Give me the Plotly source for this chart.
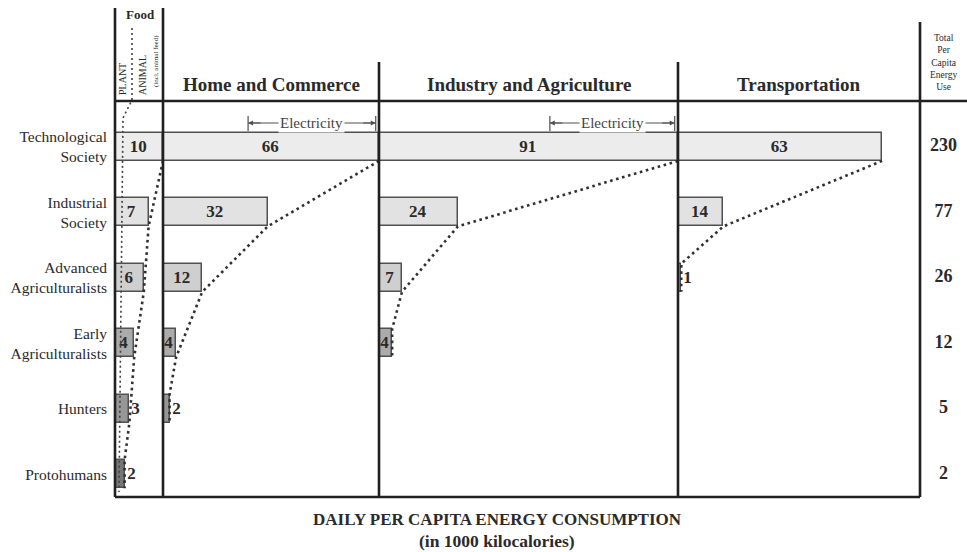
import plotly.graph_objects as go

# ---------------- data ----------------
societies = ["Technological<br>Society", "Industrial<br>Society", "Advanced<br>Agriculturalists",
             "Early<br>Agriculturalists", "Hunters", "Protohumans"]
food = [10, 7, 6, 4, 3, 2]
home_commerce = [66, 32, 12, 4, 2, 0]
industry_agri = [91, 24, 7, 4, 0, 0]
transportation = [63, 14, 1, 0, 0, 0]
total_use = [230, 77, 26, 12, 5, 2]
electricity_home = 40
electricity_industry = 39

sector_titles = ["Home and Commerce", "Industry and Agriculture", "Transportation"]

# ---------------- styling ----------------
W, H = 967, 552
FONT = "Liberation Serif"
INK = "#2a2a2a"
row_fills = ["#ececec", "#e2e2e2", "#cfcfcf", "#ababab", "#979797", "#767676"]
HALF = 0.215  # half bar thickness (row units)


def px(x):
    return x / W


def py(y):
    return 1 - y / H


# panel geometry (pixels) and axis ranges
panels = [
    ("x", food, (115, 163), 10.0),
    ("x2", home_commerce, (163, 379), 66.0),
    ("x3", industry_agri, (379, 678), 91.0),
    ("x4", transportation, (678, 920), 74.7),
]

fig = go.Figure()

for ax, vals, (a, b), rmax in panels:
    xs = [v if v > 0 else None for v in vals]
    texts = [str(v) if v > 0 else "" for v in vals]
    tpos = ["inside" if v >= 4 else "outside" for v in vals]
    fig.add_trace(go.Bar(
        x=xs, y=list(range(len(vals))), orientation="h", base=0, width=2 * HALF,
        xaxis=ax, yaxis="y",
        marker=dict(color=row_fills, line=dict(color="#505050", width=1.5)),
        text=texts, textposition=tpos, insidetextanchor="middle", constraintext="none",
        textfont=dict(family=FONT, size=17, color=INK, weight="bold"),
        cliponaxis=False, hoverinfo="skip", showlegend=False,
    ))
    # dotted envelope joining bar ends
    idx = [i for i, v in enumerate(vals) if v > 0]
    lx, ly = [], []
    for k, i in enumerate(idx):
        if k == len(idx) - 1:
            lx.append(vals[i]); ly.append(i - HALF)
        lx.append(vals[i]); ly.append(i + HALF)
    fig.add_trace(go.Scatter(
        x=lx, y=ly, xaxis=ax, yaxis="y", mode="lines",
        line=dict(color="#303030", width=2.6, dash="2.6px,3.6px"),
        hoverinfo="skip", showlegend=False, cliponaxis=False,
    ))

# totals column
fig.add_trace(go.Scatter(
    x=[0.5] * len(total_use), y=list(range(len(total_use))), xaxis="x5", yaxis="y",
    mode="text", text=[str(t) for t in total_use],
    textfont=dict(family=FONT, size=18, color=INK, weight="bold"),
    hoverinfo="skip", showlegend=False, cliponaxis=False,
))

ydom = [py(497), py(101)]
layout = dict(
    width=W, height=H, margin=dict(l=0, r=0, t=0, b=0),
    paper_bgcolor="white", plot_bgcolor="white", bargap=0,
    yaxis=dict(domain=ydom, range=[5.35, -0.70], anchor="x",
               tickvals=list(range(len(societies))), ticktext=societies,
               tickfont=dict(family=FONT, size=15.5, color=INK),
               ticks="", ticklabelstandoff=7, showgrid=False, zeroline=False,
               showline=False, automargin=False),
)
for n, (ax, vals, (a, b), rmax) in enumerate(panels):
    key = "xaxis" if ax == "x" else "xaxis" + ax[1:]
    layout[key] = dict(domain=[px(a), px(b)], range=[0, rmax], anchor="y",
                       visible=False, fixedrange=True)
layout["xaxis5"] = dict(domain=[px(920), 1.0], range=[0, 1], anchor="y", visible=False)
fig.update_layout(**layout)

# ---------------- frame lines ----------------
LC = "#202020"
frame = [
    (115, 8, 115, 497), (163, 8, 163, 497), (379, 62, 379, 497),
    (678, 62, 678, 497), (920, 22, 920, 497),
    (115, 101, 967, 101), (115, 497, 920, 497),
]
for x0, y0, x1, y1 in frame:
    fig.add_shape(type="line", xref="paper", yref="paper",
                  x0=px(x0), y0=py(y0), x1=px(x1), y1=py(y1),
                  line=dict(color=LC, width=2.6), layer="above")

# plant / animal divider in the food column
fig.add_shape(type="path", xref="paper", yref="paper", layer="above",
              path=f"M {px(132)} {py(28)} L {px(132)} {py(100)} L {px(123)} {py(118)} L {px(119)} {py(492)}",
              line=dict(color="#404040", width=1.6, dash="2px,3px"))

# ---------------- headers ----------------
anns = []


def label(text, x, y, size, bold=False, angle=0, color=INK):
    f = dict(family=FONT, size=size, color=color)
    if bold:
        f["weight"] = "bold"
    return dict(text=text, x=px(x), y=py(y), xref="paper", yref="paper", showarrow=False,
                xanchor="center", yanchor="middle", textangle=angle, font=f)


centers = [(163 + 379) / 2, (379 + 678) / 2, (678 + 920) / 2]
for t, c in zip(sector_titles, centers):
    anns.append(label(t, c, 84, 19, bold=True))
anns.append(label("Food", 140, 14, 13, bold=True))
anns.append(label("PLANT", 123, 79, 10, angle=-90))
anns.append(label("ANIMAL", 142, 75, 10, angle=-90))
anns.append(label("(incl. animal feed)", 156, 61, 7, angle=-90))
anns.append(label("Total<br>Per<br>Capita<br>Energy<br>Use", 944, 62, 9.5))
anns.append(label("DAILY PER CAPITA ENERGY CONSUMPTION", 497, 519, 17, bold=True))
anns.append(label("(in 1000 kilocalories)", 497, 541, 17.5, bold=True))

# electricity brackets
for ax, tot, elec in [("x2", home_commerce[0], electricity_home),
                      ("x3", industry_agri[0], electricity_industry)]:
    x0, x1 = tot - elec, tot - 1
    fig.add_shape(type="line", xref=ax, yref="paper", x0=x0, x1=x1, y0=py(123), y1=py(123),
                  line=dict(color="#505050", width=1.2))
    for xe in (x0, x1):
        fig.add_shape(type="line", xref=ax, yref="paper", x0=xe, x1=xe, y0=py(116), y1=py(131),
                      line=dict(color="#505050", width=1.2))
    for xe, off in ((x0, 14), (x1, -14)):
        anns.append(dict(text="", x=xe, y=py(123), xref=ax, yref="paper", ax=off, ay=0,
                         showarrow=True, arrowhead=2, arrowsize=0.9, arrowwidth=1.1,
                         arrowcolor="#505050", standoff=0))
    anns.append(dict(text="Electricity", x=(x0 + x1) / 2, y=py(123), xref=ax, yref="paper",
                     xanchor="center", yanchor="middle",
                     showarrow=False, bgcolor="white", borderpad=1,
                     font=dict(family=FONT, size=15, color="#444")))

fig.update_layout(annotations=anns)
fig.write_html("out.html", post_script="document.body.style.margin='0';",
               config={"displayModeBar": False})
